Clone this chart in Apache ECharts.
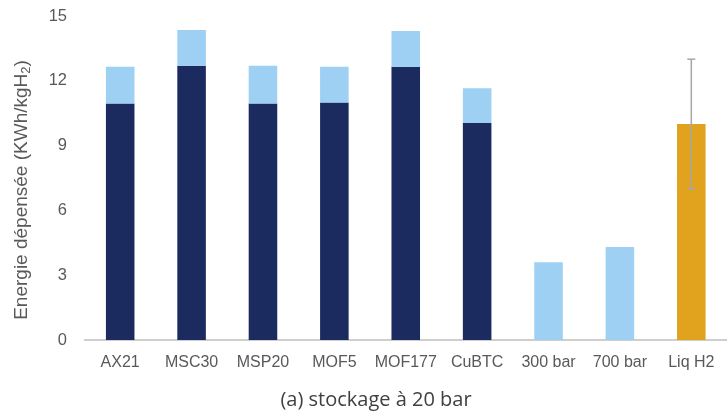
<!DOCTYPE html>
<html>
<head>
<meta charset="utf-8">
<script src="https://cdn.jsdelivr.net/npm/echarts@6/dist/echarts.min.js"></script>
<style>
  html, body { margin: 0; padding: 0; background: #ffffff; }
  #chart { width: 727px; height: 415px; }
</style>
</head>
<body>
<div id="chart"></div>
<script>
// Storage materials and alternatives
const categories = ['AX21', 'MSC30', 'MSP20', 'MOF5', 'MOF177', 'CuBTC', '300 bar', '700 bar', 'Liq H2'];
// Lower (dark) segment of each stacked bar, kWh/kgH2
const baseEnergy = [10.95, 12.7, 10.95, 11.0, 12.65, 10.05, null, null, null];
// Upper (light) segment stacked on top
const extraEnergy = [1.7, 1.65, 1.75, 1.65, 1.65, 1.6, 3.6, 4.3, null];
// Liquefaction bar and its range
const liquidEnergy = [null, null, null, null, null, null, null, null, 10];
const liquidRange = [[8, 7, 13]];
// Value axis ticks
const yTicks = { min: 0, max: 15, step: 3 };

const axisGrey = '#595959';
const chart = echarts.init(document.getElementById('chart'));

chart.setOption({
  animation: false,
  backgroundColor: '#ffffff',
  grid: { left: 84.5, top: 16, width: 647.5, bottom: 75, containLabel: false },
  xAxis: {
    type: 'category',
    data: categories,
    axisTick: { show: false },
    axisLine: { lineStyle: { color: '#bfbfbf', width: 1.5 } },
    axisLabel: { interval: 0, hideOverlap: false, color: axisGrey, fontSize: 16, fontFamily: 'Liberation Sans', margin: 15 }
  },
  yAxis: {
    type: 'value',
    min: yTicks.min,
    max: yTicks.max,
    interval: yTicks.step,
    splitLine: { show: false },
    axisLine: { show: false },
    axisTick: { show: false },
    axisLabel: { color: axisGrey, fontSize: 16.5, fontFamily: 'Liberation Sans', margin: 17.5 }
  },
  graphic: [
    {
      type: 'text',
      x: 22, y: 190,
      rotation: Math.PI / 2,
      style: {
        text: '{t|Energie dépensée (KWh/kgH}{s|2}{t|)}',
        align: 'center',
        verticalAlign: 'middle',
        rich: {
          t: { fill: axisGrey, fontSize: 19, fontFamily: 'Liberation Sans' },
          s: { fill: axisGrey, fontSize: 13, fontFamily: 'Liberation Sans', verticalAlign: 'bottom', padding: [8, 0, 0, 0] }
        }
      }
    },
    {
      type: 'text',
      x: 376, y: 400,
      style: {
        text: '(a) stockage à 20 bar',
        fill: '#404040',
        fontSize: 20,
        fontFamily: 'Open Sans',
        align: 'center',
        verticalAlign: 'middle'
      }
    }
  ],
  series: [
    {
      type: 'bar', stack: 'energy', data: baseEnergy, barWidth: '40%',
      itemStyle: { color: '#1c2b5f' }
    },
    {
      type: 'bar', stack: 'energy', data: extraEnergy, barWidth: '40%',
      itemStyle: { color: '#9dd0f2' }
    },
    {
      type: 'bar', stack: 'energy', data: liquidEnergy, barWidth: '40%',
      itemStyle: { color: '#e1a31e' }
    },
    {
      type: 'custom',
      data: liquidRange,
      z: 10,
      renderItem: function (params, api) {
        const x = api.value(0);
        const lo = api.coord([x, api.value(1)]);
        const hi = api.coord([x, api.value(2)]);
        const cap = 4;
        const style = { stroke: '#a6a6a6', lineWidth: 1.5 };
        return {
          type: 'group',
          children: [
            { type: 'line', shape: { x1: hi[0], y1: hi[1], x2: lo[0], y2: lo[1] }, style: style },
            { type: 'line', shape: { x1: hi[0] - cap, y1: hi[1], x2: hi[0] + cap, y2: hi[1] }, style: style },
            { type: 'line', shape: { x1: lo[0] - cap, y1: lo[1], x2: lo[0] + cap, y2: lo[1] }, style: style }
          ]
        };
      }
    }
  ]
});
</script>
</body>
</html>
